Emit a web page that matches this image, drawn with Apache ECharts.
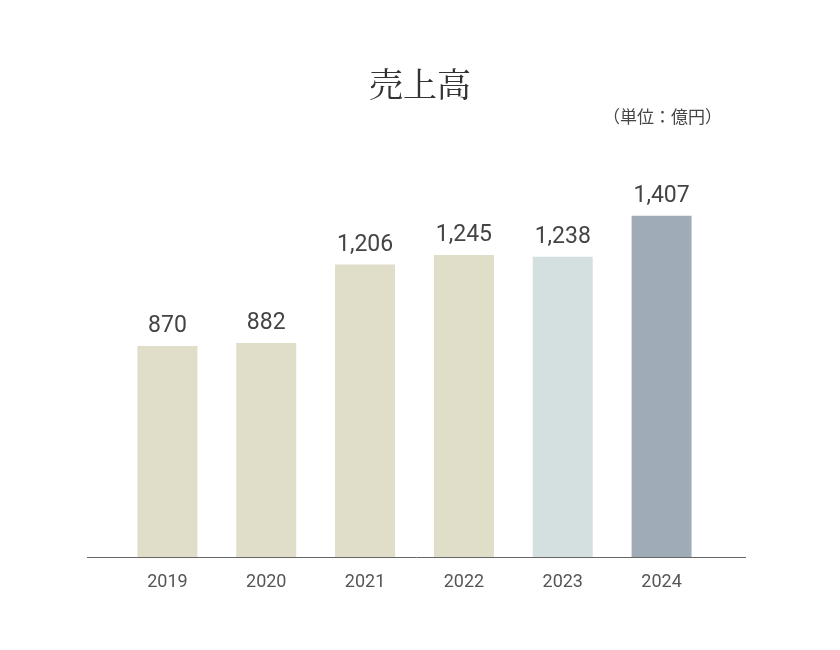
<!DOCTYPE html>
<html><head><meta charset="utf-8">
<script src="https://cdn.jsdelivr.net/npm/echarts@6/dist/echarts.min.js"></script>
<style>html,body{margin:0;background:#fff}#c{width:840px;height:650px}</style>
</head><body><div id="c"></div>
<script>
const years = ['2019','2020','2021','2022','2023','2024'];
const sales = [870, 882, 1206, 1245, 1238, 1407];
const barColors = ['#e0ddc9','#e0ddc9','#e0ddc9','#e0ddc9','#d3e0df','#a0abb8'];
const chart = echarts.init(document.getElementById('c'));
chart.setOption({
  backgroundColor:'#fff',
  title:{text:'売上高',left:'center',top:62,textStyle:{fontFamily:'Noto Serif CJK JP, Noto Sans CJK JP',fontSize:34,fontWeight:'normal',color:'#333'}},
  graphic:[
    {type:'text',right:118,top:108,style:{text:'（単位：億円）',font:'17px "Noto Sans CJK JP"',fill:'#444'}},
    {type:'line',shape:{x1:87,y1:557.5,x2:746,y2:557.5},style:{stroke:'#666',lineWidth:1}}
  ],
  grid:{left:118,right:129,top:169,bottom:93},
  xAxis:{type:'category',data:years,axisLine:{show:false},axisTick:{show:false},
    axisLabel:{margin:16,fontSize:18,color:'#555',fontFamily:'Roboto'}},
  yAxis:{type:'value',min:0,max:1600,show:false,splitLine:{show:false}},
  series:[{type:'bar',barWidth:60,
    data:sales.map((v,i)=>({value:v,itemStyle:{color:barColors[i]}})),
    label:{show:true,position:'top',distance:8,fontSize:23,color:'#444',fontFamily:'Roboto',
      formatter:p=>p.value.toLocaleString('en-US')}}]
});
</script></body></html>
